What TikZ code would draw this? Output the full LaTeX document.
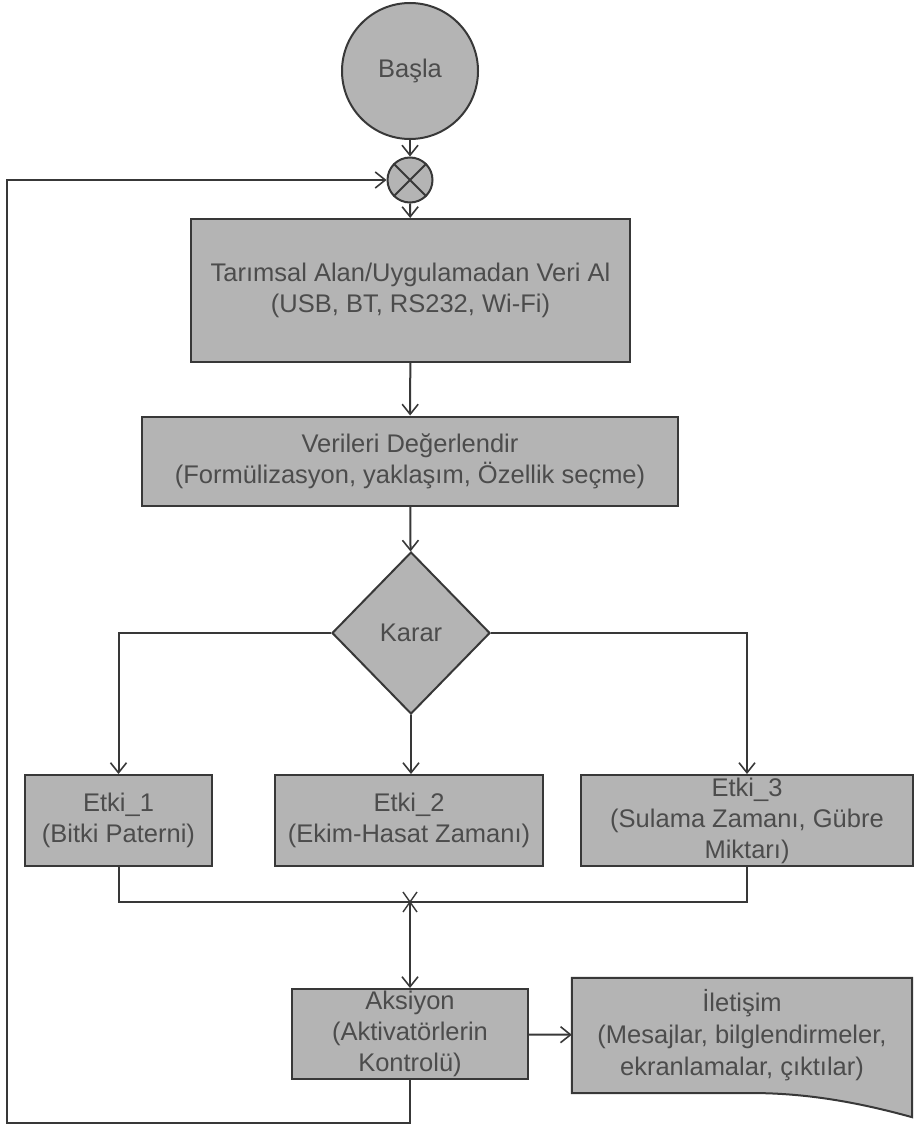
\documentclass[tikz,border=0pt]{standalone}
\usepackage{fontspec}
\setmainfont{Liberation Sans}
\usetikzlibrary{arrows.meta,shapes.geometric,calc,backgrounds}
\definecolor{boxfill}{HTML}{B4B4B4}
\definecolor{boxline}{HTML}{383838}
\definecolor{txt}{HTML}{4C4C4C}
\begin{document}
\begin{tikzpicture}[x=1pt,y=-1pt,
  box/.style={draw=boxline, fill=boxfill, line width=2pt, text=txt, align=center,
              font=\fontsize{25.5}{31}\selectfont, inner sep=0pt},
  conn/.style={draw=boxline, line width=2pt},
  arr/.style={conn, -{Straight Barb[length=10pt,width=16pt,line width=1.6pt]}}]
\useasboundingbox (0,0) rectangle (915,1126);
\node[box, circle, minimum size=136pt] (start) at (410,71) {Başla};
\node[box, circle, minimum size=45pt] (sum) at (410,180) {};
\draw[conn] (sum.45) -- (sum.225) (sum.135) -- (sum.315);
\node[box, minimum width=439pt, minimum height=143pt] (veri) at (410.5,290.5)
  {Tarımsal Alan/Uygulamadan Veri Al\\(USB, BT, RS232, Wi-Fi)};
\node[box, minimum width=536pt, minimum height=89pt] (deg) at (410,461)
  {Verileri Değerlendir\\(Formülizasyon, yaklaşım, Özellik seçme)};
\node[box, diamond, minimum width=158pt, minimum height=162pt] (karar) at (411,633) {Karar};
\node[box, minimum width=187pt, minimum height=91pt] (e1) at (118.5,820.5)
  {Etki\_1\\(Bitki Paterni)};
\node[box, minimum width=268pt, minimum height=91pt] (e2) at (409,820.5)
  {Etki\_2\\(Ekim-Hasat Zamanı)};
\node[box, minimum width=332pt, minimum height=91pt] (e3) at (747,820.5)
  {Etki\_3\\(Sulama Zamanı, Gübre\\Miktarı)};
\coordinate (j) at (410,902);
\node[box, minimum width=236pt, minimum height=90pt] (aks) at (410,1034)
  {Aksiyon\\(Aktivatörlerin\\Kontrolü)};
\node[text=txt, align=center, font=\fontsize{25.5}{32}\selectfont, inner sep=0pt,
      minimum width=340pt, minimum height=115pt] (ilet) at (742,1035.5)
  {İletişim\\(Mesajlar, bilglendirmeler,\\ekranlamalar, çıktılar)};
\begin{scope}[on background layer]
\draw[box] (ilet.north west) -- (ilet.north east) -- ($(ilet.south east)+(0,24)$)
  .. controls (850,1100) and (800,1093) .. (750,1093) -- (ilet.south west) -- cycle;
\end{scope}
\coordinate (loop) at (7,1123);
\draw[arr] (start) -- (sum);
\draw[arr] (sum) -- (veri);
\draw[arr] (veri) -- (deg);
\draw[arr] (deg) -- (karar);
\draw[arr] (karar.west) -| (e1.north);
\draw[arr] (karar.south) -- (karar.south |- e2.north);
\draw[arr] (karar.east) -| (e3.north);
\draw[conn] (e1.south) |- (j) -| (e3.south);
\draw[conn, line width=1.4pt] ($(j)+(-7,-10)$) -- ($(j)+(7,10)$) ($(j)+(-7,10)$) -- ($(j)+(7,-10)$);
\draw[arr] (j) -- (aks);
\draw[arr] (aks) -- (ilet);
\draw[arr] (aks.south) |- (loop) |- (sum.west);
\end{tikzpicture}
\end{document}
